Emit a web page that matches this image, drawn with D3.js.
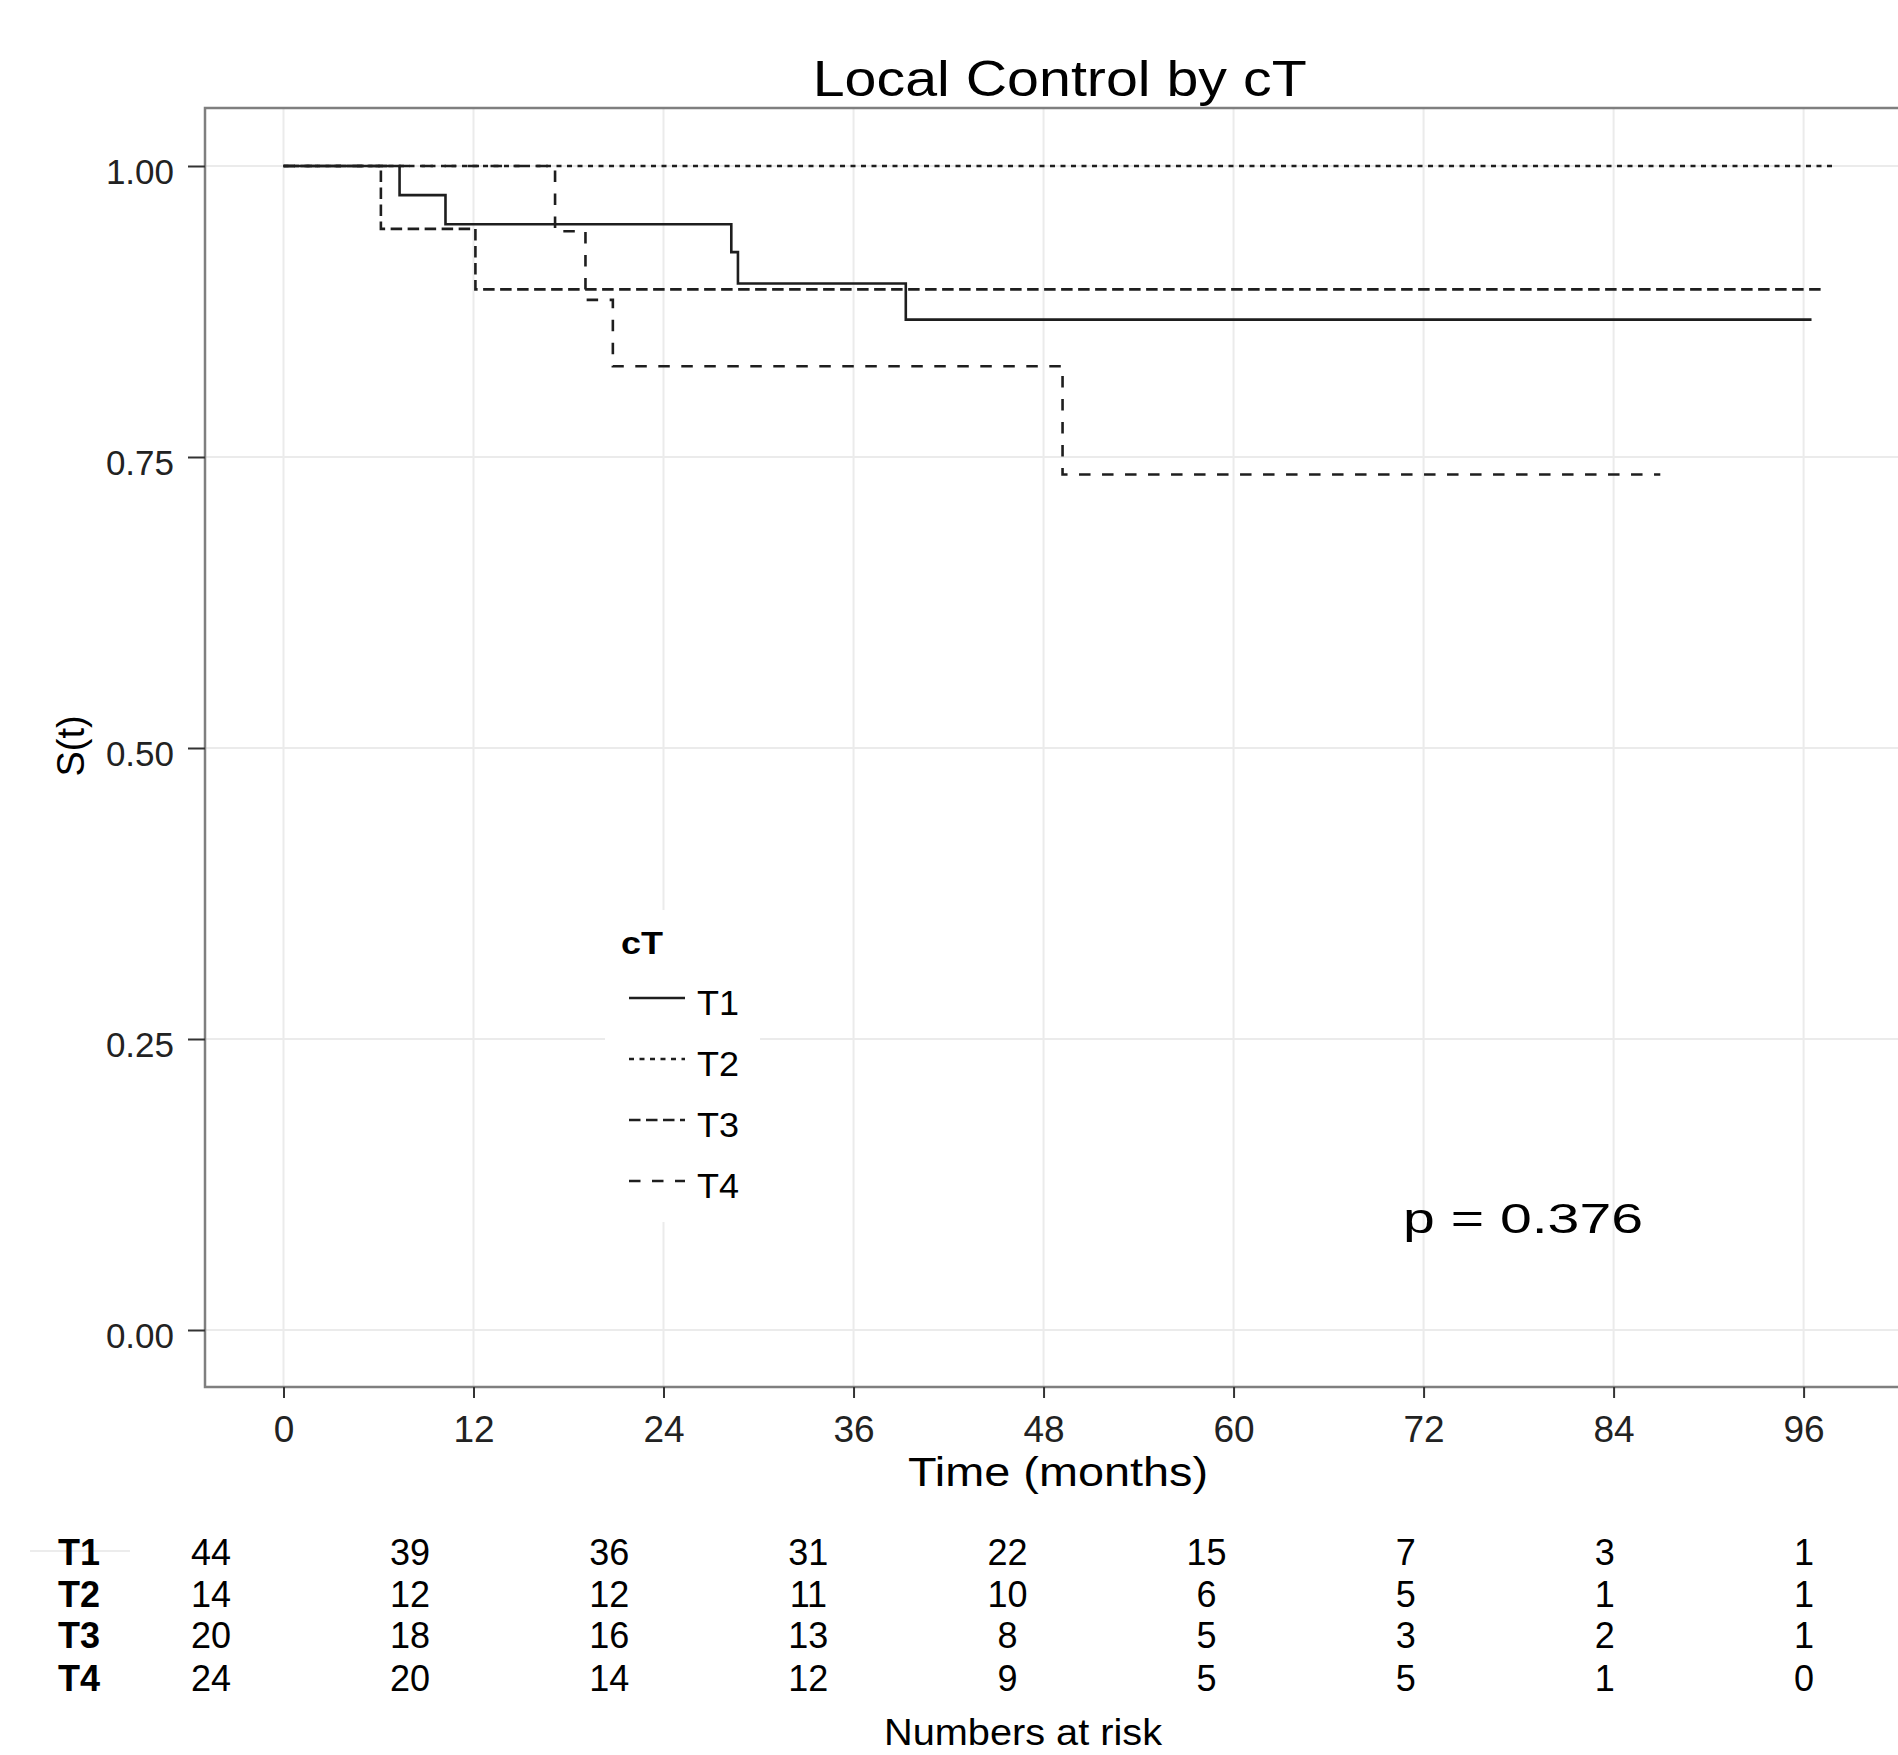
<!DOCTYPE html>
<html>
<head>
<title>Local Control by cT | D3</title>
<style>
    body { margin: 0; background: #fff; }
    svg { display: block; font-family: "Liberation Sans", Arial, sans-serif; }
</style>
<script src="https://d3js.org/d3.v7.min.js" charset="utf-8"></script>
</head>
<body>
<script>
// values (months, survival)
var groups = ["T1", "T2", "T3", "T4"];
var t1Times = [0, 7.33, 10.23, 28.28, 28.7, 39.3];
var t1Surv  = [1, 0.975, 0.950, 0.926, 0.899, 0.868];
var t2Times = [0];
var t2Surv  = [1];
var t3Times = [0, 6.15, 12.12];
var t3Surv  = [1, 0.946, 0.894];
var t4Times = [0, 17.15, 19.07, 20.8, 49.2];
var t4Surv  = [1, 0.944, 0.885, 0.828, 0.735];
var lastTimes = [96.5, 98.0, 97.4, 86.95];

var xTicks = [0, 12, 24, 36, 48, 60, 72, 84, 96];
var yTicks = [0, 0.25, 0.5, 0.75, 1];

var riskTimes = [0, 12, 24, 36, 48, 60, 72, 84, 96];
var riskT1 = [44, 39, 36, 31, 22, 15, 7, 3, 1];
var riskT2 = [14, 12, 12, 11, 10, 6, 5, 1, 1];
var riskT3 = [20, 18, 16, 13, 8, 5, 3, 2, 1];
var riskT4 = [24, 20, 14, 12, 9, 5, 5, 1, 0];

var pLabel = "p = 0.376";

var width = 1898, height = 1755;
var dashes = ["none", "5,5.5", "11.5,5.5", "11.5,11.5"];

var svg = d3.select("body").append("svg")
    .attr("width", width)
    .attr("height", height);
svg.append("rect").attr("width", width).attr("height", height).attr("fill", "#fff");

// panel
var panel = {left: 205, top: 108, right: 1912, bottom: 1387};
var x = d3.scaleLinear().domain([0, 96]).range([283.5, 1803.6]);
var y = d3.scaleLinear().domain([0, 1]).range([1330, 166]);

var grid = svg.append("g");
grid.selectAll(".gx").data(xTicks).enter().append("line")
    .attr("x1", d => x(d)).attr("x2", d => x(d))
    .attr("y1", panel.top).attr("y2", panel.bottom)
    .attr("stroke", "#ebebeb").attr("stroke-width", 2);
grid.selectAll(".gy").data(yTicks).enter().append("line")
    .attr("x1", panel.left).attr("x2", panel.right)
    .attr("y1", d => y(d)).attr("y2", d => y(d))
    .attr("stroke", "#ebebeb").attr("stroke-width", 2);

// curves
var series = [
    {times: t1Times, surv: t1Surv},
    {times: t2Times, surv: t2Surv},
    {times: t3Times, surv: t3Surv},
    {times: t4Times, surv: t4Surv}
];
var step = d3.line().x(d => x(d[0])).y(d => y(d[1])).curve(d3.curveStepAfter);
series.forEach(function(s, i) {
    var pts = s.times.map((t, j) => [t, s.surv[j]]);
    pts.push([lastTimes[i], s.surv[s.surv.length - 1]]);
    svg.append("path")
        .attr("d", step(pts))
        .attr("fill", "none")
        .attr("stroke", "#1e1e1e")
        .attr("stroke-width", 2.6)
        .attr("stroke-dasharray", dashes[i]);
});

// legend
var lg = svg.append("g");
lg.append("rect").attr("x", 605).attr("y", 910).attr("width", 155).attr("height", 312).attr("fill", "#fff");
lg.append("text").attr("x", 621).attr("y", 954).attr("font-size", 32).attr("font-weight", "bold")
    .attr("textLength", 42).attr("lengthAdjust", "spacingAndGlyphs").text("cT");
groups.forEach(function(g, i) {
    var ly = 998 + i * 61;
    lg.append("line").attr("x1", 629).attr("x2", 685).attr("y1", ly).attr("y2", ly)
        .attr("stroke", "#1e1e1e").attr("stroke-width", 2.6).attr("stroke-dasharray", dashes[i]);
    lg.append("text").attr("x", 697).attr("y", ly + 17).attr("font-size", 35)
        .attr("textLength", 42).attr("lengthAdjust", "spacingAndGlyphs").text(g);
});

// p value
svg.append("text").attr("x", 1403).attr("y", 1233).attr("font-size", 43)
    .attr("textLength", 240).attr("lengthAdjust", "spacingAndGlyphs").text(pLabel);

// border
svg.append("rect")
    .attr("x", panel.left).attr("y", panel.top)
    .attr("width", panel.right - panel.left).attr("height", panel.bottom - panel.top)
    .attr("fill", "none").attr("stroke", "#7f7f7f").attr("stroke-width", 2.5);

// axes
var yAxis = svg.append("g").attr("transform", "translate(" + panel.left + ",0)")
    .call(d3.axisLeft(y).tickValues(yTicks).tickFormat(d3.format(".2f")).tickSize(17).tickPadding(14));
yAxis.select(".domain").remove();
yAxis.selectAll("line").attr("stroke", "#333").attr("stroke-width", 2);
yAxis.selectAll("text").attr("font-size", 35).attr("fill", "#222")
    .attr("font-family", "'Liberation Sans', Arial, sans-serif").attr("dy", "0.5em");

var xAxis = svg.append("g").attr("transform", "translate(0," + panel.bottom + ")")
    .call(d3.axisBottom(x).tickValues(xTicks).tickSize(11).tickPadding(18));
xAxis.select(".domain").remove();
xAxis.selectAll("line").attr("stroke", "#333").attr("stroke-width", 2);
xAxis.selectAll("text").attr("font-size", 37).attr("fill", "#222")
    .attr("font-family", "'Liberation Sans', Arial, sans-serif");

// titles
svg.append("text").attr("x", 812.7).attr("y", 96).attr("font-size", 50)
    .attr("textLength", 494).attr("lengthAdjust", "spacingAndGlyphs").text("Local Control by cT");
svg.append("text").attr("x", 908).attr("y", 1486).attr("font-size", 40)
    .attr("textLength", 300).attr("lengthAdjust", "spacingAndGlyphs").text("Time (months)");
svg.append("text").attr("transform", "translate(84,746) rotate(-90)")
    .attr("text-anchor", "middle").attr("font-size", 38).text("S(t)");

// numbers at risk table
var tx = d3.scaleLinear().domain([0, 96]).range([211, 1804]);
var riskRows = [riskT1, riskT2, riskT3, riskT4];
var rowY = [1552, 1594, 1635, 1678];
svg.append("line").attr("x1", 30).attr("x2", 130).attr("y1", 1551).attr("y2", 1551)
    .attr("stroke", "#ececec").attr("stroke-width", 2);
riskRows.forEach(function(row, i) {
    svg.append("text").attr("x", 58).attr("y", rowY[i] + 13).attr("font-size", 36)
        .attr("font-weight", "bold").text(groups[i]);
    svg.selectAll(".r" + i).data(row).enter().append("text")
        .attr("x", (d, j) => tx(riskTimes[j]))
        .attr("y", rowY[i] + 13)
        .attr("text-anchor", "middle")
        .attr("font-size", 36)
        .text(d => d);
});
svg.append("text").attr("x", 884).attr("y", 1745).attr("font-size", 37)
    .attr("textLength", 278).attr("lengthAdjust", "spacingAndGlyphs").text("Numbers at risk");
</script>
</body>
</html>
